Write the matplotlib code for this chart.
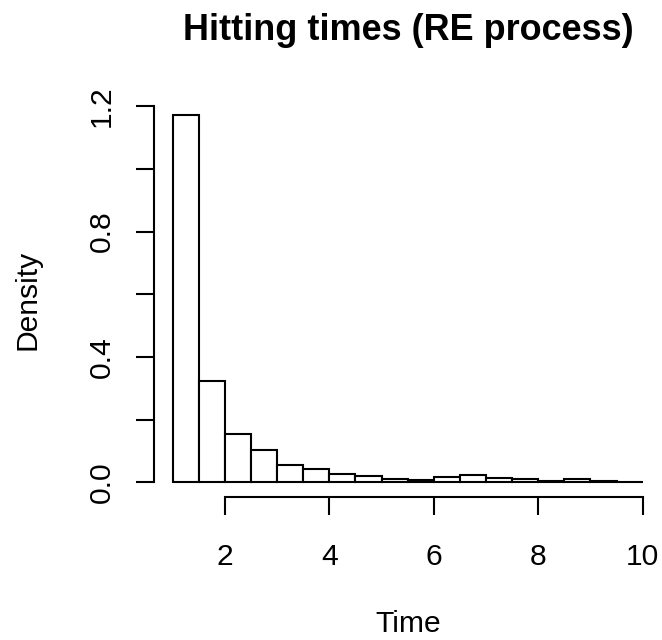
import matplotlib
matplotlib.use("Agg")
import matplotlib.pyplot as plt
import numpy as np

# Histogram of hitting times (bin width 0.5 from 1 to 10)
bin_edges = [1.0, 1.5, 2.0, 2.5, 3.0, 3.5, 4.0, 4.5, 5.0, 5.5,
             6.0, 6.5, 7.0, 7.5, 8.0, 8.5, 9.0, 9.5, 10.0]
density = [1.171, 0.322, 0.154, 0.102, 0.056, 0.042, 0.025, 0.021, 0.011,
           0.008, 0.017, 0.022, 0.015, 0.0095, 0.004, 0.0095, 0.004, 0.002]
x_ticks = [2, 4, 6, 8, 10]
y_ticks = [0.0, 0.2, 0.4, 0.6, 0.8, 1.0, 1.2]
y_tick_labels = ["0.0", "", "0.4", "", "0.8", "", "1.2"]

plt.rcParams['font.family'] = ['Liberation Sans', 'DejaVu Sans']
W, H = 662, 640
fig = plt.figure(figsize=(W / 100, H / 100), dpi=100)
left, right, top, bottom = 153.9, 661.5, 100.7, 497.0
ax = fig.add_axes([left / W, 1 - bottom / H, (right - left) / W, (bottom - top) / H])

lw = 1.5
lefts = bin_edges[:-1]
widths = np.diff(bin_edges)
ax.bar(lefts, density, width=widths, align='edge', color='white',
       edgecolor='black', linewidth=lw)

xmin, xmax = bin_edges[0], bin_edges[-1]
xr = xmax - xmin
ax.set_xlim(xmin - 0.04 * xr, xmax + 0.04 * xr)
ymax = max(density)
ax.set_ylim(-0.04 * ymax, ymax * 1.04)

for s in ['top', 'right']:
    ax.spines[s].set_visible(False)
ax.spines['left'].set_bounds(y_ticks[0], y_ticks[-1])
ax.spines['bottom'].set_bounds(x_ticks[0], x_ticks[-1])
ax.spines['left'].set_linewidth(lw)
ax.spines['bottom'].set_linewidth(lw)

ax.set_xticks(x_ticks)
ax.set_xticklabels([str(t) for t in x_ticks])
ax.set_yticks(y_ticks)
ax.set_yticklabels(y_tick_labels, rotation=90, va='center')
fs = 21.6
ax.tick_params(axis='both', length=13.3, width=lw, labelsize=fs, color='black')
ax.tick_params(axis='x', pad=20)
ax.tick_params(axis='y', pad=14)

fig.text(408 / W, 1 - 31 / H, "Hitting times (RE process)", fontsize=fs * 1.2,
         fontweight='bold', ha='center', va='center')
fig.text(408 / W, 1 - 632 / H, "Time", fontsize=fs, ha='center', va='baseline')
fig.text(28 / W, 1 - 300 / H, "Density", fontsize=fs, rotation=90,
         ha='center', va='center')

fig.savefig("out.png", dpi=100)
